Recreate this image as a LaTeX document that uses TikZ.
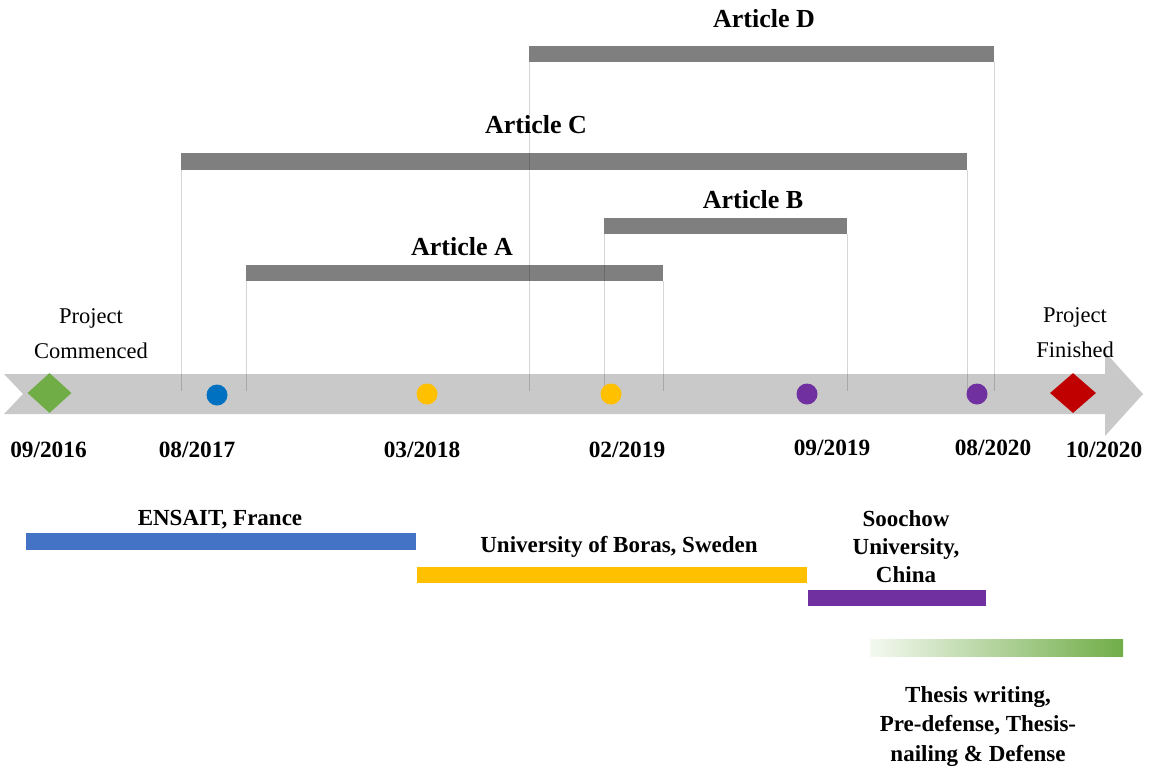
\documentclass[tikz,border=0pt]{standalone}
\usepackage{fontspec}
\setmainfont{Liberation Serif}
\usetikzlibrary{shapes.geometric}
\definecolor{artgray}{HTML}{7F7F7F}
\definecolor{bandgray}{HTML}{C9C9C9}
\definecolor{stgreen}{HTML}{70AD47}
\definecolor{endred}{HTML}{C00000}
\definecolor{dotblue}{HTML}{0070C0}
\definecolor{dotyellow}{HTML}{FFC000}
\definecolor{dotpurple}{HTML}{7030A0}
\definecolor{ensblue}{HTML}{4472C4}
\begin{document}
\begin{tikzpicture}[x=1pt,y=-1pt,
  artbar/.style={fill=artgray,inner sep=0pt,minimum height=16.5pt,anchor=west},
  hostbar/.style={inner sep=0pt,minimum height=16.5pt,anchor=west},
  arttitle/.style={font=\fontsize{26}{28}\selectfont\bfseries,anchor=base,inner sep=0pt},
  datelabel/.style={font=\fontsize{23.3}{26}\selectfont\bfseries,anchor=base,inner sep=0pt},
  milestone/.style={font=\fontsize{22.5}{35}\selectfont,anchor=base,inner sep=0pt,align=center},
  hostlabel/.style={font=\fontsize{23}{28}\selectfont\bfseries,anchor=base,inner sep=0pt,align=center},
  dot/.style={circle,inner sep=0pt,minimum size=21pt},
  gem/.style={diamond,inner sep=0pt,minimum width=44pt,minimum height=40pt},
  drop/.style={draw=black,draw opacity=0.16,line width=1pt},
]
\useasboundingbox (0,0) rectangle (1151,766);

% timeline arrow
\fill[bandgray] (4,374) -- (1105,374) -- (1105,352) -- (1143,394) -- (1105,436)
  -- (1105,414) -- (4,414) -- (23,394) -- cycle;
\coordinate (lineend) at (0,391);

% article bars
\node[artbar,minimum width=465pt] (barD) at (529,54) {};
\node[artbar,minimum width=786pt] (barC) at (181,161.5) {};
\node[artbar,minimum width=243pt] (barB) at (604,226) {};
\node[artbar,minimum width=417pt] (barA) at (246,273) {};

\node[arttitle] (labD) at (764,27) {Article D};
\node[arttitle] (labC) at (536,133) {Article C};
\node[arttitle] (labB) at (753,208) {Article B};
\node[arttitle] (labA) at (462,255) {Article A};

% drop lines from the bar ends to the timeline
\foreach \b in {barA,barB,barC,barD}{
  \draw[drop] (\b.south west) -- (\b.south west |- lineend);
  \draw[drop] (\b.south east) -- (\b.south east |- lineend);
}

% milestones on the timeline
\node[gem,fill=stgreen] (start) at (49.5,393) {};
\node[gem,fill=endred,minimum width=46pt] (finish) at (1073,393) {};
\node[dot,fill=dotblue] (m1) at (217,395) {};
\node[dot,fill=dotyellow] (m2) at (427,394) {};
\node[dot,fill=dotyellow] (m3) at (611,394) {};
\node[dot,fill=dotpurple] (m4) at (807,394) {};
\node[dot,fill=dotpurple] (m5) at (977,394) {};

% multi-line labels are placed by the baseline of their last line
\node[milestone] (startlab) at (91,358) {Project\\Commenced};
\node[milestone] (finishlab) at (1075,357) {Project\\Finished};

% dates
\node[datelabel] (d1) at (48.5,457) {09/2016};
\node[datelabel] (d2) at (197,457) {08/2017};
\node[datelabel] (d3) at (422,457) {03/2018};
\node[datelabel] (d4) at (627,457) {02/2019};
\node[datelabel] (d5) at (832,455) {09/2019};
\node[datelabel] (d6) at (993,455) {08/2020};
\node[datelabel] (d7) at (1104,457) {10/2020};

% host institutions
\node[hostbar,fill=ensblue,minimum width=390pt] (ensait) at (26,541.5) {};
\node[hostbar,fill=dotyellow,minimum width=390pt] (boras) at (417,575) {};
\node[hostbar,fill=dotpurple,minimum width=178pt] (soochow) at (808,598) {};
\node[hostbar,left color=stgreen!8,right color=stgreen,minimum width=253pt] (thesis) at (870,648) {};

\node[hostlabel] (ensaitlab) at (220,525) {ENSAIT, France};
\node[hostlabel] (boraslab) at (619,552) {University of Boras, Sweden};
\node[hostlabel] (soochowlab) at (906,582) {Soochow\\University,\\China};
\node[hostlabel,font=\fontsize{23}{29.5}\selectfont\bfseries] (thesislab) at (978,761)
  {Thesis writing,\\Pre-defense, Thesis-\\nailing \& Defense};
\end{tikzpicture}
\end{document}
